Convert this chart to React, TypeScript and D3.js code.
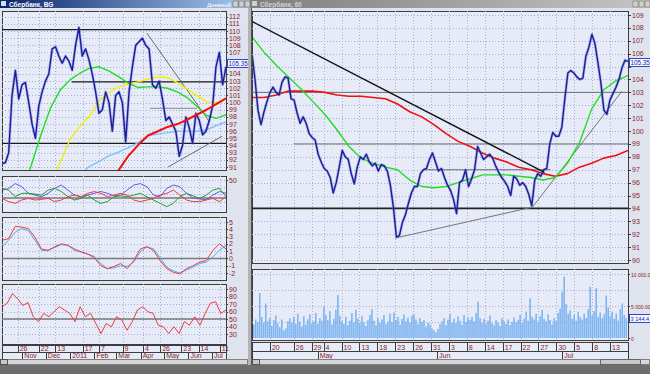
import React from "react";
import * as d3 from "d3";

const FONT = "'Liberation Sans', Arial, sans-serif";
const INK = "#8b1d1d";
const BG = "#e6ebf7";
const GRID = "#a3afd8";
const FRAME = "#3d3d3d";

const day = (s: string) => +new Date(s + "T00:00:00");

// ---------- left window: daily bars, Oct 2010 - Jul 2011
const leftRange = ["2010-10-06", "2011-07-19"];

const leftClose = [
  91.5, 91.6, 93, 101, 104.5, 100.5, 102.5, 102.8, 100, 97,
  95, 99.5, 101.5, 103, 104, 107.5, 107.8, 106.5, 105.5, 106.5,
  105.8, 104.5, 108, 110.5, 106.5, 107.5, 106, 104, 101.5, 98.5,
  99, 101.5, 100, 96, 101, 101.5, 100, 94.5, 101.5, 105,
  108, 108.5, 109, 108, 107.5, 102.5, 102, 103, 100.5, 97.5,
  98, 97, 96, 92.5, 94, 98, 96.5, 94.3, 98.5, 97.5,
  95.5, 96, 97.5, 99.5, 105, 107, 102.5, 105,
];
const leftMaGreen = [null, null, 87.5, 91.2, 95.5, 99.3, 101.8, 103.2, 104.1, 104.8, 105, 104.4, 103.6, 102.7, 102.1, 102.2, 102.2, 102, 101.5, 100.7, 99.5, 98.2, 97.8, 98.3];
const leftMaYellow = [null, null, null, null, null, 88.5, 91.7, 94.9, 96.7, 98.1, 100.3, 101.4, 102.2, 102.6, 102.9, 103.3, 103.6, 103.5, 102.8, 101.9, 101, 100.1, 100, 100.6];
const leftMaBlue = [null, null, null, null, null, null, null, null, 90, 91.1, 91.8, 92.6, 93.1, 93.7, 94.4, 95.4, 95.6, 95.8, 96, 96, 96, 96.2, 96.8, 97.3];
const leftMaRed = [null, null, null, null, null, null, null, null, null, null, null, 88.5, 90.6, 92.6, 94.1, 95.4, 96, 96.6, 97, 97.6, 98.3, 99, 99.8, 100.6];

const dmiPlus = [36, 38, 45, 40.7, 31.5, 29, 26.8, 31.5, 38.4, 43, 36, 29, 26.8, 29, 31.5, 34, 31.5, 28, 29, 36, 43, 45, 40.7, 29, 26.8, 38.4, 43, 40.7, 31.5, 25, 23.5, 22.8, 29, 34, 31.5];
const dmiMinus = [38.4, 36, 26.8, 31.5, 31.5, 30.5, 29, 36, 38.4, 34, 26.8, 22.2, 24.5, 29, 22.2, 17.6, 20, 26.8, 28, 26.8, 29, 31.5, 26.8, 22.2, 17.6, 13, 17.6, 26.8, 31.5, 28, 24.5, 29, 36, 38.4, 26.8];
const adx = [24.5, 20, 17.6, 22.2, 24.5, 22.2, 23.1, 24.5, 20, 22.2, 26.8, 29, 26.8, 31.5, 34, 31.5, 26.8, 29, 31.5, 29, 22.2, 20, 22.2, 24.5, 29, 31.5, 36, 29, 22.2, 20, 20, 22.2, 24.5, 20, 26.8];

const macdLine = [2.5, 2.7, 4.4, 4.3, 4.1, 2.9, 1.3, 1.1, 1.6, 2, 1.8, 1.3, 0.9, 0.6, 0.1, -1, -1.4, -1.1, -0.7, -1.4, -0.3, 1.3, 1.6, 1.1, -0.3, -1.4, -1.9, -2.1, -1.4, -1, -0.5, -0.3, 1.1, 2, 1.3];
const macdSignal = [1.6, 2.5, 3.6, 4.1, 3.8, 2.5, 1.1, 1.1, 1.5, 1.9, 1.8, 1.1, 0.9, 0.6, 0.3, -0.7, -1.4, -1.3, -1, -1.1, -0.5, 0.9, 1.6, 1.3, 0.1, -1.2, -1.7, -2, -1.6, -1.2, -0.7, -0.5, 0.2, 1.1, 1.8];

const rsi = [
  66.4, 71, 84, 77, 68, 72, 53, 46.4, 57.5, 53,
  59.8, 66.4, 62, 57.5, 46.4, 66.4, 53, 57.5, 44, 30.7,
  44, 39.6, 53, 48.5, 35.1, 46.4, 62, 66.4, 59.8, 57.5,
  41.8, 39.6, 30.7, 39.6, 30.7, 46.4, 41.8, 53, 41.8, 57.5,
  71, 73, 57.5, 62,
];

const leftLevels = [
  { from: "2010-10-06", to: "2011-07-19", price: 110.2 },
  { from: "2011-01-03", to: "2011-07-19", price: 102.9 },
  { from: "2010-10-06", to: "2011-07-19", price: 94.3 },
];
const leftGrayLevels = [{ from: "2011-04-13", to: "2011-06-12", price: 99.2 }];
const leftTrends = [
  { a: ["2011-04-09", 109.7], b: ["2011-06-28", 97.3] },
  { a: ["2011-05-06", 91], b: ["2011-07-14", 95.3] },
];

const leftDayTicks = ["2010-10-26", "2010-11-22", "2010-12-13", "2011-01-17", "2011-02-07", "2011-03-09", "2011-04-04", "2011-04-26", "2011-05-23", "2011-06-14", "2011-07-11"];
const leftMonthTicks = ["2010-11-01", "2010-12-01", "2011-01-01", "2011-02-01", "2011-03-01", "2011-04-01", "2011-05-01", "2011-06-01", "2011-07-01"];
const leftMonthLabels = ["Nov", "Dec", "2011", "Feb", "Mar", "Apr", "May", "Jun", "Jul"];

// ---------- right window: intraday, Apr - Jul 2011
const rightSessions = [
  "2011-04-15", "2011-04-18", "2011-04-19", "2011-04-20", "2011-04-21", "2011-04-22", "2011-04-25", "2011-04-26", "2011-04-27", "2011-04-28", "2011-04-29",
  "2011-05-03", "2011-05-04", "2011-05-05", "2011-05-06", "2011-05-10", "2011-05-11", "2011-05-12", "2011-05-13", "2011-05-16", "2011-05-17", "2011-05-18", "2011-05-19", "2011-05-20",
  "2011-05-23", "2011-05-24", "2011-05-25", "2011-05-26", "2011-05-27", "2011-05-30", "2011-05-31",
  "2011-06-01", "2011-06-02", "2011-06-03", "2011-06-06", "2011-06-07", "2011-06-08", "2011-06-09", "2011-06-10", "2011-06-14", "2011-06-15", "2011-06-16", "2011-06-17",
  "2011-06-20", "2011-06-21", "2011-06-22", "2011-06-23", "2011-06-24", "2011-06-27", "2011-06-28", "2011-06-29", "2011-06-30",
  "2011-07-01", "2011-07-04", "2011-07-05", "2011-07-06", "2011-07-07", "2011-07-08", "2011-07-11", "2011-07-12", "2011-07-13", "2011-07-14", "2011-07-15",
];

const rightClose = [
  106, 104, 101.6, 100.5, 101.5, 102.3, 103, 103.4, 103, 102.8,
  103.8, 104.2, 104.1, 102.5, 102.4, 101.4, 100.6, 101.1, 100.6, 99.8,
  99.5, 99.3, 98.2, 97.6, 97.1, 96.9, 96.4, 95.2, 96, 97.2,
  98.5, 98, 97.8, 96.7, 95.9, 97.2, 98, 97.8, 98.2, 97.6,
  97.3, 97.5, 96.9, 97.4, 97.3, 96.9, 95.8, 94.1, 91.8, 91.9,
  92.9, 93.5, 94.4, 95.2, 95.7, 95.7, 96.7, 97, 97.1, 97.8,
  98.3, 97.6, 96.9, 97.1, 96.4, 95.8, 95.4, 94.7, 93.6, 96,
  96.2, 97, 95.7, 96.3, 97, 98.8, 98.3, 97.8, 98, 98.2,
  97.9, 97.3, 96.8, 96.4, 96.1, 95.7, 95, 96.5, 96.3, 95.8,
  96, 95.7, 95.1, 94.2, 96.2, 96.7, 96.5, 97, 97.1, 99,
  99.9, 99.6, 99.6, 100.3, 102.5, 104.5, 104.7, 104.5, 104.2, 104,
  104.1, 105.8, 106.5, 107.5, 106.8, 105.3, 103.7, 101.6, 101.3, 102.4,
  102.9, 103.4, 104, 104.9, 105.5, 105.4,
];
const rightMaGreen = [107.3, 106.1, 105.1, 104.2, 103.3, 102.3, 101.3, 100.1, 98.8, 97.9, 97.5, 97.2, 97, 96.2, 95.7, 95.6, 95.7, 96, 96.3, 96.6, 96.6, 96.6, 96.5, 96.4, 96.2, 96.4, 97.5, 99.1, 101.7, 103.2, 103.9, 104.3];
const rightMaRed = [102.6, 102.6, 102.8, 103.1, 103.1, 103.1, 103, 102.8, 102.7, 102.7, 102.6, 102.5, 102.1, 101.5, 101.1, 100.5, 99.8, 99.2, 98.8, 98.3, 97.9, 97.6, 97.2, 97, 96.7, 96.5, 96.7, 97.2, 97.5, 97.9, 98.1, 98.5];

const volume = [
  2100, 2900, 2500, 7000, 3300, 2400, 5400, 2600, 3100, 1900,
  2800, 3500, 2300, 1700, 2900, 1200, 1500, 2600, 3100, 2400,
  3300, 2200, 3800, 2600, 1800, 3400, 2100, 2900, 3700, 2300,
  2600, 3900, 2200, 3100, 2700, 4900, 3600, 2800, 4200, 2100,
  3000, 4400, 6700, 3500, 2600, 2200, 3300, 2000, 2700, 3900,
  2400, 4400, 3000, 2300, 3400, 2500, 1900, 2800, 3600, 4500,
  2700, 2000, 3100, 2400, 2900, 3600, 2200, 2600, 3800, 2500,
  4000, 2800, 3300, 2100, 3000, 3700, 2600, 3200, 2400, 3500,
  3700, 2900, 2200, 3100, 2500, 2800, 1800, 2400, 2100, 1500,
  1200, 900, 1400, 2200, 2600, 3100, 2000, 2900, 3800, 2400,
  3000, 2300, 3400, 2700, 2100, 3600, 2500, 3200, 2800, 3300,
  2600, 3900, 5700, 3100, 2400, 3000, 2200, 2700, 3500, 2300,
  2000, 2800, 2400, 1900, 3100, 2600, 2200, 2900, 2000, 2500,
  3200, 2400, 2800, 3600, 2300, 3000, 4100, 2700, 6200, 3300,
  2900, 3800, 2500, 3400, 4400, 3000, 2600, 3700, 2800, 2100,
  3100, 2600, 3900, 4600, 7200, 9600, 5300, 3800, 4300, 3000,
  3600, 2700, 4100, 3300, 2900, 3800, 3100, 4500, 8000, 3500,
  4200, 7800, 3300, 4000, 3100, 3700, 6600, 4800, 3400, 4100,
  3000, 3800, 2700, 4500, 5400, 3600, 3100,
];

const rightLevels = [
  { from: "2011-04-15", to: "2011-07-15", price: 94 },
];
const rightThinLevels = [
  { from: "2011-04-15", to: "2011-07-15", price: 103 },
  { from: "2011-04-26", to: "2011-07-15", price: 99 },
  { from: "2011-05-30", to: "2011-06-28", price: 97 },
];
const rightDownTrend = [["2011-04-15", 108.5], ["2011-06-28", 96.8]];
const rightSupport = [["2011-05-23", 91.7], ["2011-06-24", 94.1], ["2011-07-15", 103.1]];

const rightDayTicks = ["2011-04-20", "2011-04-26", "2011-04-29", "2011-05-04", "2011-05-10", "2011-05-13", "2011-05-18", "2011-05-23", "2011-05-26", "2011-05-31", "2011-06-03", "2011-06-08", "2011-06-14", "2011-06-17", "2011-06-22", "2011-06-27", "2011-06-30", "2011-07-05", "2011-07-08", "2011-07-13"];
const rightMonthTicks = ["2011-05-03", "2011-06-01", "2011-07-01"];
const rightMonthLabels = ["May", "Jun", "Jul"];

const lastPrice = "105.35";
const lastVolume = "3 144.4";

// ---------- helpers
function spread(values: (number | null)[], a: number, b: number): [number, number | null][] {
  return values.map((v, i) => [a + ((b - a) * i) / (values.length - 1), v]);
}

function Path({ pts, x, y, stroke, width = 1, clip, opacity = 1 }: any) {
  const d = d3
    .line<[number, number | null]>()
    .defined((p) => p[1] != null)
    .x((p) => x(p[0]))
    .y((p) => y(p[1] as number))(pts);
  return (
    <path d={d || ""} fill="none" stroke={stroke} strokeWidth={width} strokeOpacity={opacity}
      strokeLinejoin="round" clipPath={clip ? `url(#${clip})` : undefined} />
  );
}

function Panel({ x0, x1, y0, y1 }: any) {
  return <rect x={x0 + 0.5} y={y0 + 0.5} width={x1 - x0} height={y1 - y0} fill={BG} stroke={FRAME} strokeWidth={1} />;
}

function HGrid({ ticks, y, x0, x1 }: any) {
  return (
    <g stroke={GRID} strokeDasharray="1 2" strokeWidth={1}>
      {ticks.map((t: number) => (
        <line key={t} x1={x0} x2={x1} y1={Math.round(y(t)) + 0.5} y2={Math.round(y(t)) + 0.5} />
      ))}
    </g>
  );
}

function VGrid({ xs, y0, y1 }: any) {
  return (
    <g stroke={GRID} strokeDasharray="1 2" strokeWidth={1}>
      {xs.map((px: number, i: number) => (
        <line key={i} x1={Math.round(px) + 0.5} x2={Math.round(px) + 0.5} y1={y0} y2={y1} />
      ))}
    </g>
  );
}

// axis labels; a label hidden behind the current-value box is left out
function YLabels({ ticks, y, x, fmt, skipAt, size = 7 }: any) {
  const shown = ticks.filter((t: number) => skipAt == null || Math.abs(y(t) - skipAt) > 5.5);
  return (
    <g fontSize={size} fill={INK}>
      {ticks.map((t: number) => (
        <line key={"k" + t} x1={x - 3} x2={x - 1} y1={Math.round(y(t)) + 0.5} y2={Math.round(y(t)) + 0.5} stroke={FRAME} />
      ))}
      {shown.map((t: number) => (
        <text key={t} x={x} y={y(t) + 2.5}>{fmt ? fmt(t) : String(t)}</text>
      ))}
    </g>
  );
}

function ValueBox({ x, cy, text, size = 6.3 }: any) {
  return (
    <g>
      <rect x={x + 0.5} y={Math.round(cy) - 4 + 0.5} width={21} height={8} fill="#f4f6ff" stroke="#2a48c8" />
      <text x={x + 1.5} y={Math.round(cy) + 2.5} fontSize={size} fill="#1a2aa0">{text}</text>
    </g>
  );
}

function DateRows({ dayXs, dayLabels, monXs, monLabels, x0, x1, y0, y1, y2 }: any) {
  return (
    <g fontSize={7} fill={INK}>
      <rect x={x0 + 0.5} y={y0 + 0.5} width={x1 - x0} height={y1 - y0} fill={BG} stroke={FRAME} />
      <rect x={x0 + 0.5} y={y1 + 0.5} width={x1 - x0} height={y2 - y1} fill={BG} stroke={FRAME} />
      {dayXs.map((px: number, i: number) => (
        <g key={"d" + i}>
          <line x1={Math.round(px) + 0.5} x2={Math.round(px) + 0.5} y1={y0} y2={y1} stroke={FRAME} />
          <text x={px + 2} y={y1 - 1.5}>{dayLabels[i]}</text>
        </g>
      ))}
      {monXs.map((px: number, i: number) => (
        <g key={"m" + i}>
          <line x1={Math.round(px) + 0.5} x2={Math.round(px) + 0.5} y1={y1} y2={y2} stroke={FRAME} />
          <text x={px + 2} y={y2 - 1.5}>{monLabels[i]}</text>
        </g>
      ))}
    </g>
  );
}

function LeftWindow() {
  const t0 = day(leftRange[0]);
  const t1 = day(leftRange[1]);
  const X0 = 2, X1 = 226;
  const x = d3.scaleTime().domain([t0, t1]).range([X0, X1]);
  const yP = d3.scaleLinear().domain([91, 112]).range([167, 16.7]);
  const yD = d3.scaleLinear().domain([0, 50]).range([216, 180]);
  const yM = d3.scaleLinear().domain([-2, 5]).range([273, 222]);
  const yR = d3.scaleLinear().domain([30, 90]).range([334, 289]);
  const dayXs = leftDayTicks.map((s) => x(day(s)));
  const monXs = leftMonthTicks.map((s) => x(day(s)));
  const dayLabels = leftDayTicks.map((s) => String(new Date(s + "T00:00:00").getDate()));
  const P = { y0: 11, y1: 170 };
  const O = { y0: 176, y1: 212 };
  const M = { y0: 217, y1: 280 };
  const R = { y0: 284, y1: 344 };
  const boxY = yP(+lastPrice) - 1;

  return (
    <g>
      <defs>
        <clipPath id="clp"><rect x={X0 + 1} y={P.y0 + 1} width={X1 - X0 - 1} height={P.y1 - P.y0 - 1} /></clipPath>
        <clipPath id="clo"><rect x={X0 + 1} y={O.y0 + 1} width={X1 - X0 - 1} height={O.y1 - O.y0 - 1} /></clipPath>
        <clipPath id="clm"><rect x={X0 + 1} y={M.y0 + 1} width={X1 - X0 - 1} height={M.y1 - M.y0 - 1} /></clipPath>
        <clipPath id="clr"><rect x={X0 + 1} y={R.y0 + 1} width={X1 - X0 - 1} height={R.y1 - R.y0 - 1} /></clipPath>
      </defs>

      {/* price panel */}
      <Panel x0={X0} x1={X1} y0={P.y0} y1={P.y1} />
      <HGrid ticks={d3.range(91, 113)} y={yP} x0={X0} x1={X1} />
      <VGrid xs={dayXs} y0={P.y0} y1={P.y1} />
      {leftLevels.map((l, i) => (
        <line key={i} x1={x(day(l.from))} x2={x(day(l.to))} y1={yP(l.price)} y2={yP(l.price)} stroke="#1a1a1a" strokeWidth={1.2} />
      ))}
      {leftGrayLevels.map((l, i) => (
        <line key={i} x1={x(day(l.from))} x2={x(day(l.to))} y1={yP(l.price)} y2={yP(l.price)} stroke="#8a8a8a" strokeWidth={1} />
      ))}
      {leftTrends.map((t, i) => (
        <line key={i} x1={x(day(t.a[0] as string))} y1={yP(t.a[1] as number)} x2={x(day(t.b[0] as string))} y2={yP(t.b[1] as number)} stroke="#6a6a6a" strokeWidth={1} />
      ))}
      <Path pts={spread(leftMaBlue, t0, t1)} x={x} y={yP} stroke="#7cc4ff" width={1.4} clip="clp" />
      <Path pts={spread(leftMaYellow, t0, t1)} x={x} y={yP} stroke="#f2f200" width={1.4} clip="clp" />
      <Path pts={spread(leftMaGreen, t0, t1)} x={x} y={yP} stroke="#22dd22" width={1.4} clip="clp" />
      <Path pts={spread(leftClose, t0, t1)} x={x} y={yP} stroke="#6a78d8" width={2.8} opacity={0.45} clip="clp" />
      <Path pts={spread(leftClose, t0, t1)} x={x} y={yP} stroke="#1c1c9a" width={1.4} clip="clp" />
      <Path pts={spread(leftMaRed, t0, t1)} x={x} y={yP} stroke="#ee1111" width={2} clip="clp" />
      <YLabels ticks={d3.range(91, 113)} y={yP} x={X1 + 3} skipAt={boxY} />
      <ValueBox x={X1 + 1} cy={boxY} text={lastPrice} />

      {/* directional movement */}
      <Panel x0={X0} x1={X1} y0={O.y0} y1={O.y1} />
      <VGrid xs={dayXs} y0={O.y0} y1={O.y1} />
      <HGrid ticks={[50, 40, 30, 20]} y={yD} x0={X0} x1={X1} />
      <line x1={X0} x2={X1} y1={yD(25)} y2={yD(25)} stroke="#7a7a7a" strokeWidth={1.5} />
      <Path pts={spread(dmiPlus, t0, t1)} x={x} y={yD} stroke="#5a5af0" width={1} clip="clo" />
      <Path pts={spread(dmiMinus, t0, t1)} x={x} y={yD} stroke="#2a9a2a" width={1} clip="clo" />
      <Path pts={spread(adx, t0, t1)} x={x} y={yD} stroke="#f03a3a" width={1} clip="clo" />
      <YLabels ticks={[50]} y={yD} x={X1 + 3} />

      {/* macd */}
      <Panel x0={X0} x1={X1} y0={M.y0} y1={M.y1} />
      <VGrid xs={dayXs} y0={M.y0} y1={M.y1} />
      <HGrid ticks={d3.range(-2, 6)} y={yM} x0={X0} x1={X1} />
      <line x1={X0} x2={X1} y1={yM(0)} y2={yM(0)} stroke="#7a7a7a" strokeWidth={1.5} />
      <Path pts={spread(macdSignal, t0, t1)} x={x} y={yM} stroke="#4aaef0" width={1} clip="clm" />
      <Path pts={spread(macdLine, t0, t1)} x={x} y={yM} stroke="#f03a3a" width={1} clip="clm" />
      <YLabels ticks={d3.range(-2, 6)} y={yM} x={X1 + 3} />

      {/* rsi */}
      <Panel x0={X0} x1={X1} y0={R.y0} y1={R.y1} />
      <VGrid xs={dayXs} y0={R.y0} y1={R.y1} />
      <HGrid ticks={d3.range(30, 100, 10)} y={yR} x0={X0} x1={X1} />
      <line x1={X0} x2={X1} y1={yR(50)} y2={yR(50)} stroke="#7a7a7a" strokeWidth={1.5} />
      <Path pts={spread(rsi, t0, t1)} x={x} y={yR} stroke="#f03a3a" width={1} clip="clr" />
      <YLabels ticks={d3.range(30, 100, 10)} y={yR} x={X1 + 3} />

      <DateRows dayXs={dayXs} dayLabels={dayLabels} monXs={monXs} monLabels={leftMonthLabels}
        x0={X0} x1={X1} y0={345} y1={352} y2={359} />
    </g>
  );
}

function RightWindow() {
  const n = rightSessions.length;
  const X0 = 252, X1 = 628;
  const x = d3.scaleLinear().domain([0, n]).range([X0, X1]);
  const idx = (s: string) => rightSessions.indexOf(s);
  const yP = d3.scaleLinear().domain([90, 109]).range([260, 15]);
  const yV = d3.scaleLinear().domain([0, 10000]).range([338, 274]);
  const dayXs = rightDayTicks.map((s) => x(idx(s)));
  const monXs = rightMonthTicks.map((s) => x(idx(s)));
  const dayLabels = rightDayTicks.map((s) => String(new Date(s + "T00:00:00").getDate()));
  const P = { y0: 11, y1: 263 };
  const V = { y0: 269, y1: 340 };
  const vols = spread(volume, 0.3, n - 0.3);
  const boxY = yP(+lastPrice);
  const volY = yV(3144.4);

  return (
    <g>
      <defs>
        <clipPath id="crp"><rect x={X0 + 1} y={P.y0 + 1} width={X1 - X0 - 1} height={P.y1 - P.y0 - 1} /></clipPath>
        <clipPath id="crv"><rect x={X0 + 1} y={V.y0 + 1} width={X1 - X0 - 1} height={V.y1 - V.y0 - 1} /></clipPath>
      </defs>

      <Panel x0={X0} x1={X1} y0={P.y0} y1={P.y1} />
      <HGrid ticks={d3.range(90, 110)} y={yP} x0={X0} x1={X1} />
      <VGrid xs={dayXs} y0={P.y0} y1={P.y1} />
      {rightThinLevels.map((l, i) => (
        <line key={i} x1={x(idx(l.from))} x2={x(idx(l.to) + 1)} y1={yP(l.price)} y2={yP(l.price)} stroke="#6e6e6e" strokeWidth={1} />
      ))}
      {rightLevels.map((l, i) => (
        <line key={i} x1={x(idx(l.from))} x2={x(idx(l.to) + 1)} y1={yP(l.price)} y2={yP(l.price)} stroke="#222" strokeWidth={1.6} />
      ))}
      <Path pts={rightSupport.map((p) => [idx(p[0] as string), p[1]])} x={x} y={yP} stroke="#777" width={1} clip="crp" />
      <Path pts={spread(rightMaRed, 0, n)} x={x} y={yP} stroke="#ee1111" width={1.6} clip="crp" />
      <Path pts={spread(rightMaGreen, 0, n)} x={x} y={yP} stroke="#22dd22" width={1.4} clip="crp" />
      <Path pts={spread(rightClose, 0, n)} x={x} y={yP} stroke="#6a78d8" width={2.8} opacity={0.45} clip="crp" />
      <Path pts={spread(rightClose, 0, n)} x={x} y={yP} stroke="#1c1c9a" width={1.4} clip="crp" />
      <Path pts={rightDownTrend.map((p) => [idx(p[0] as string), p[1]])} x={x} y={yP} stroke="#151515" width={1.5} clip="crp" />
      <YLabels ticks={d3.range(90, 110)} y={yP} x={X1 + 4} skipAt={boxY} />
      <ValueBox x={X1 + 1} cy={boxY} text={lastPrice} />

      <Panel x0={X0} x1={X1} y0={V.y0} y1={V.y1} />
      <HGrid ticks={[2500, 5000, 7500, 10000]} y={yV} x0={X0} x1={X1} />
      <VGrid xs={dayXs} y0={V.y0} y1={V.y1} />
      <g clipPath="url(#crv)">
        {vols.map((p, i) => (
          <rect key={i} x={x(p[0]) - 0.7} width={1.4} y={yV(p[1] as number)} height={yV(0) - yV(p[1] as number)} fill="#72aef0" />
        ))}
      </g>
      <YLabels ticks={[0, 5000, 10000]} y={yV} x={X1 + 3} size={5}
        fmt={(t: number) => (t === 0 ? "0" : d3.format(",.2f")(t).replace(/,/g, " "))} />
      <ValueBox x={X1 + 1} cy={volY} text={lastVolume} size={5.6} />

      <DateRows dayXs={dayXs} dayLabels={dayLabels} monXs={monXs} monLabels={rightMonthLabels}
        x0={X0} x1={X1} y0={342} y1={351} y2={359} />
    </g>
  );
}

export default function App() {
  return (
    <svg width={650} height={374} viewBox="0 0 650 374" fontFamily={FONT}
      style={{ position: "absolute", left: 0, top: 0, display: "block" }}>
      <defs>
        <linearGradient id="tbActive" x1="0" x2="1">
          <stop offset="0" stopColor="#0a246a" />
          <stop offset="1" stopColor="#a6caf0" />
        </linearGradient>
        <linearGradient id="tbInactive" x1="0" x2="1">
          <stop offset="0" stopColor="#7e7e7e" />
          <stop offset="1" stopColor="#c4c4c4" />
        </linearGradient>
      </defs>
      <rect width={650} height={374} fill="#dfe3ee" />

      {/* title bars */}
      <rect x={0} y={0} width={250} height={8} fill="url(#tbActive)" />
      <rect x={1} y={1} width={5} height={5} fill="#d8dcf0" />
      <text x={9} y={6.5} fontSize={6.5} fontWeight="bold" fill="#ffffff">Сбербанк, BG</text>
      <text x={207} y={6.5} fontSize={6} fill="#ffffff">Дневной</text>
      {[233, 239, 245].map((bx) => (
        <rect key={bx} x={bx} y={1} width={5} height={6} fill="#d4d0c8" stroke="#555" strokeWidth={0.5} />
      ))}
      <rect x={250} y={0} width={400} height={8} fill="url(#tbInactive)" />
      <rect x={252} y={1} width={5} height={5} fill="#d0d0d0" />
      <text x={260} y={6.5} fontSize={6.5} fontWeight="bold" fill="#d2d2d2">Сбербанк, 60</text>
      {[633, 639, 645].map((bx) => (
        <rect key={bx} x={bx} y={1} width={5} height={6} fill="#d4d0c8" stroke="#666" strokeWidth={0.5} />
      ))}

      <LeftWindow />
      <rect x={248} y={8} width={3} height={357} fill="#b4b4b4" />
      <line x1={251.5} x2={251.5} y1={8} y2={365} stroke="#505050" />
      <RightWindow />

      {/* scroll bars and bottom */}
      <rect x={0.5} y={359.5} width={247} height={5} fill="#d8d8d8" stroke="#808080" />
      <rect x={0.5} y={359.5} width={7} height={5} fill="#c8c8c8" stroke="#555" />
      <rect x={252.5} y={359.5} width={397} height={5} fill="#d8d8d8" stroke="#808080" />
      <rect x={252.5} y={359.5} width={7} height={5} fill="#c8c8c8" stroke="#555" />
      <rect x={600.5} y={359.5} width={40} height={5} fill="#c8c8c8" stroke="#666" />
      <rect x={0} y={365} width={650} height={9} fill="#6e6e6e" />
    </svg>
  );
}
